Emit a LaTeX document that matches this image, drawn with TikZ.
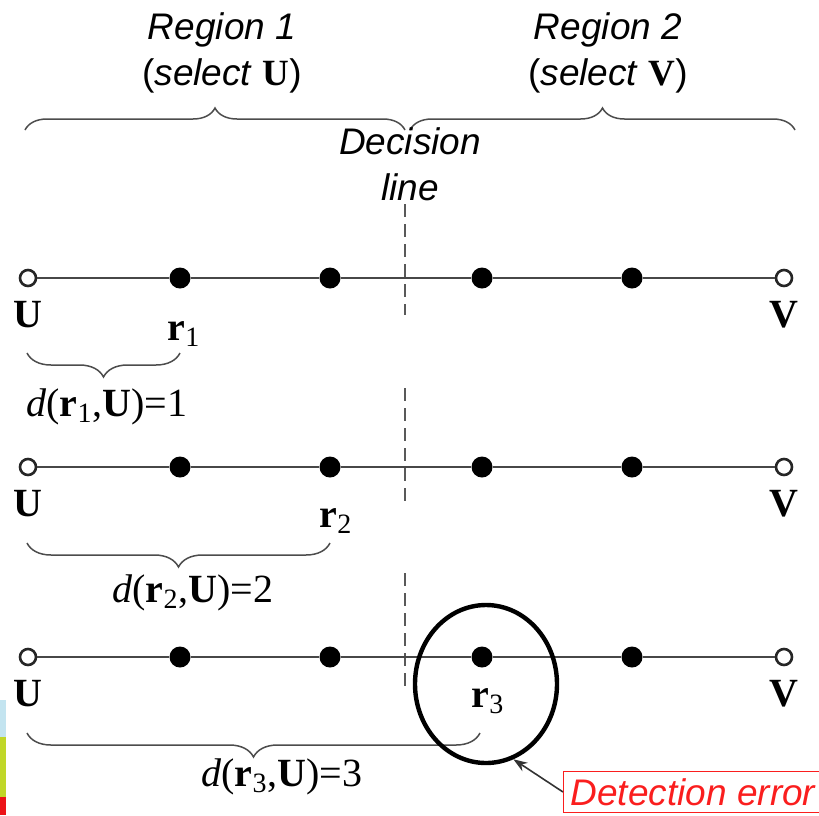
\documentclass[tikz,border=0pt]{standalone}
\usepackage{fontspec}
\setmainfont{Liberation Serif}
\newfontfamily\arialfont{Liberation Sans}
\usetikzlibrary{shapes.geometric,arrows.meta,positioning,decorations.pathreplacing}
\definecolor{errred}    {RGB}{250,30,30}
\definecolor{stripblue} {RGB}{195,228,240}
\definecolor{stripgreen}{RGB}{192,215,40}
\definecolor{stripred}  {RGB}{236,20,24}

\begin{document}
\begin{tikzpicture}[
  x=0.5pt, y=-0.5pt, >=Stealth,
  open/.style={circle, draw=black!85, fill=white, line width=1.3pt,
    minimum size=8pt, inner sep=0pt},
  dot/.style={circle, fill=black, minimum size=10.5pt, inner sep=0pt},
  rail/.style={draw=black!72, line width=1.1pt},
  lbl/.style={font=\fontsize{20}{22}\selectfont, inner sep=0pt},
  sans/.style={font=\arialfont\fontsize{18.5}{23}\selectfont, align=center, inner sep=0pt},
  brc/.style={decorate, decoration={brace, amplitude=#1}, draw=black!70, line width=0.75pt},
  brc/.default=12pt,
  decision/.style={draw=black!65, line width=0.9pt, dash pattern=on 6.5pt off 3.5pt},
]
\useasboundingbox (0,0) rectangle (819,815);
\clip (0,0) rectangle (819,815);

% Region headers
\node[sans] (reg1) at (222,53) {\textit{Region 1}\\(\textit{select} {\rmfamily\bfseries U})};
\node[sans] (reg2) at (608,53) {\textit{Region 2}\\(\textit{select} {\rmfamily\bfseries V})};
\draw[brc=11pt] (25,130) -- (405,130);
\draw[brc=11pt] (410,130) -- (795,130);
\node[sans] (dline) at (410,164) {\textit{Decision}\\\textit{line}};

% Decision line (broken between the rows)
\draw[decision] (405,204) -- (405,315);
\draw[decision] (405,388) -- (405,501);
\draw[decision] (405,573) -- (405,688);

%-- ROWS: U -- four received points -- V
\foreach \row/\y in {1/278, 2/467, 3/657}{
  \node[open] (U\row) at (28,\y) {};
  \foreach \x [count=\i] in {180,330,482,632}{ \node[dot] (p\row\i) at (\x,\y) {}; }
  \node[open] (V\row) at (784,\y) {};
  \draw[rail] (U\row) -- (p\row1) -- (p\row2) -- (p\row3) -- (p\row4) -- (V\row);
  \node[lbl] (lU\row) at (28,\y+37) {\textbf{U}};
  \node[lbl] (lV\row) at (784,\y+37) {\textbf{V}};
}

%-- ROW 1: r1 one step from U
\node[lbl] (r1) at (184,334) {\textbf{r}\textsubscript{1}};
\draw[brc] (180,353) -- (27,353);
\node[lbl] (d1) at (107,407) {\textit{d}(\textbf{r}\textsubscript{1},\textbf{U})=1};

%-- ROW 2: r2 two steps from U
\node[lbl] (r2) at (336,521) {\textbf{r}\textsubscript{2}};
\draw[brc] (330,543) -- (27,543);
\node[lbl] (d2) at (193,593) {\textit{d}(\textbf{r}\textsubscript{2},\textbf{U})=2};

%-- ROW 3: r3 beyond the decision line
\node[lbl] (r3) at (488,701) {\textbf{r}\textsubscript{3}};
\draw[brc] (480,733) -- (27,733);
\node[lbl] (d3) at (282,777) {\textit{d}(\textbf{r}\textsubscript{3},\textbf{U})=3};

% Detection error mark
\node[ellipse, draw, line width=2.2pt, minimum width=71pt, minimum height=79pt,
  inner sep=0pt] (errzone) at (486,684) {};
\node[draw=errred, line width=0.6pt, text=errred, anchor=west, minimum height=20.5pt,
  inner xsep=3.5pt, inner ysep=0pt, font=\arialfont\itshape\fontsize{18.5}{21}\selectfont]
  (errlbl) at (563,792) {Detection error};
\draw[-{Stealth[length=7pt, width=5pt]}, black!80, line width=0.8pt] (errlbl.west) -- (errzone.-70);

% colour strip at the left border
\fill[stripblue]  (0,700) rectangle (6,737);
\fill[stripgreen] (0,737) rectangle (6,797);
\fill[stripred]   (0,797) rectangle (6,815);

\end{tikzpicture}
\end{document}
